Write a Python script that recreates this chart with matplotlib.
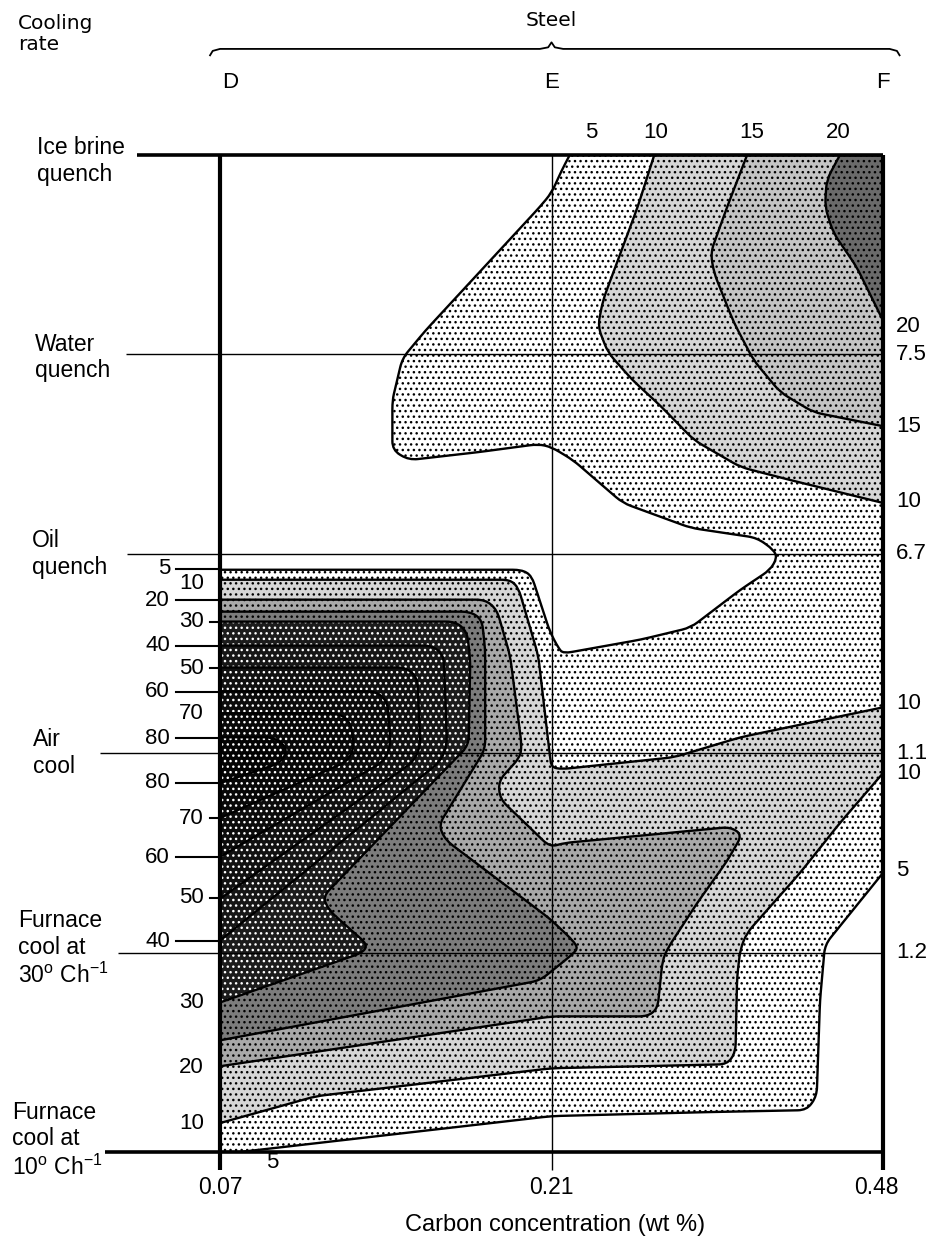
import numpy as np
import matplotlib
matplotlib.use('Agg')
import matplotlib.pyplot as plt
from matplotlib.path import Path
from matplotlib.patches import PathPatch

plt.rcParams['font.family'] = ['Liberation Sans', 'DejaVu Sans']
plt.rcParams['hatch.linewidth'] = 1.0

# axes: x = steel (D, E, F), y = cooling rate index (0 = furnace 10, 5 = ice brine)
steels = ['D', 'E', 'F']
carbon = ['0.07', '0.21', '0.48']
cooling = ['Furnace\ncool at\n10$^{\\mathregular{o}}$ Ch$^{\\mathregular{-1}}$',
           'Furnace\ncool at\n30$^{\\mathregular{o}}$ Ch$^{\\mathregular{-1}}$',
           'Air\ncool', 'Oil\nquench', 'Water\nquench', 'Ice brine\nquench']
row_values = ['', '1.2', '1.1', '6.7', '7.5', '']

# contour outlines (steel position, cooling-rate position)
c5_x = [1.055, 2.0, 2.0, 1.825, 1.81, 1.80, 1.77, 1.47, 1.0, 0.06, 0.0, 0.0, 0.91, 0.94,
        0.995, 1.02, 1.035, 1.27, 1.42, 1.57, 1.66, 1.68, 1.67, 1.62, 1.42, 1.215, 1.065,
        1.0, 0.96, 0.78, 0.57, 0.52, 0.52, 0.53, 0.55, 0.62, 0.965, 1.0, 1.03]
c5_y = [5.0, 5.0, 1.40, 1.04, 0.76, 0.28, 0.21, 0.20, 0.18, 0.0, 0.0, 2.92, 2.92, 2.89,
        2.61, 2.53, 2.50, 2.57, 2.63, 2.82, 2.92, 2.98, 3.02, 3.08, 3.13, 3.255, 3.47,
        3.535, 3.55, 3.51, 3.47, 3.52, 3.77, 3.84, 3.98, 4.12, 4.74, 4.81, 4.92]

c10_top_x = [1.31, 2.0, 2.0, 1.72, 1.57, 1.43, 1.33, 1.245, 1.17, 1.14, 1.155, 1.26]
c10_top_y = [5.0, 5.0, 3.255, 3.37, 3.435, 3.57, 3.74, 3.87, 4.01, 4.14, 4.27, 4.74]

c10_x = [0.0, 0.875, 0.90, 0.96, 0.995, 1.0, 1.03, 1.37, 1.57, 2.0, 2.0, 1.87, 1.75, 1.59,
         1.57, 1.56, 1.555, 1.53, 1.27, 1.0, 0.29, 0.0]
c10_y = [2.87, 2.87, 2.83, 2.49, 1.99, 1.93, 1.92, 1.98, 2.08, 2.23, 1.90, 1.65, 1.40, 1.10,
         1.02, 0.88, 0.50, 0.44, 0.43, 0.42, 0.28, 0.145]

c15_top_x = [1.59, 2.0, 2.0, 1.79, 1.69, 1.61, 1.55, 1.49, 1.48, 1.53]
c15_top_y = [5.0, 5.0, 3.64, 3.71, 3.81, 3.97, 4.16, 4.41, 4.51, 4.74]

c20_top_x = [1.87, 2.0, 2.0, 1.92, 1.85, 1.825, 1.83]
c20_top_y = [5.0, 5.0, 4.17, 4.44, 4.61, 4.74, 4.875]

c20_x = [0.0, 0.80, 0.835, 0.875, 0.91, 0.905, 0.84, 0.845, 0.995, 1.04, 1.54, 1.575, 1.53,
         1.44, 1.35, 1.335, 1.32, 1.29, 1.0, 0.0]
c20_y = [2.77, 2.77, 2.72, 2.49, 2.04, 1.98, 1.86, 1.77, 1.53, 1.55, 1.63, 1.59, 1.46,
         1.25, 1.02, 0.96, 0.72, 0.68, 0.68, 0.43]

c25_x = [0.0, 0.755, 0.79, 0.80, 0.80, 0.66, 0.68, 0.995, 1.065, 1.08, 1.055, 0.965, 0.0]
c25_y = [2.71, 2.71, 2.67, 2.52, 2.02, 1.64, 1.565, 1.17, 1.06, 1.02, 0.98, 0.86, 0.56]

c30_x = [0.0, 0.71, 0.745, 0.755, 0.75, 0.31, 0.33, 0.445, 0.43, 0.0]
c30_y = [2.66, 2.66, 2.61, 2.47, 2.04, 1.28, 1.21, 1.04, 1.00, 0.75]

c40_x = [0.0, 0.64, 0.675, 0.685, 0.665, 0.0]
c40_y = [2.54, 2.54, 2.49, 2.04, 1.96, 1.06]
c50_x = [0.0, 0.56, 0.595, 0.605, 0.585, 0.0]
c50_y = [2.43, 2.43, 2.38, 2.04, 1.96, 1.27]
c60_x = [0.0, 0.47, 0.505, 0.515, 0.495, 0.0]
c60_y = [2.31, 2.31, 2.26, 2.04, 1.96, 1.48]
c70_x = [0.0, 0.36, 0.395, 0.405, 0.385, 0.0]
c70_y = [2.20, 2.20, 2.15, 2.03, 1.96, 1.675]
c80_x = [0.0, 0.16, 0.195, 0.20, 0.18, 0.0]
c80_y = [2.08, 2.08, 2.04, 2.0, 1.95, 1.85]

# contour labels
top_labels = ['5', '10', '15', '20']
top_label_x = [1.12, 1.315, 1.605, 1.865]
edge_labels = ['20', '15', '10', '10', '10', '5']
edge_label_y = [4.14, 3.64, 3.26, 2.25, 1.90, 1.41]
left_labels = ['5', '10', '20', '30', '40', '50', '60', '70', '80',
               '80', '70', '60', '50', '40', '30', '20', '10']
left_label_y = [2.924, 2.849, 2.768, 2.658, 2.538, 2.427, 2.307, 2.197, 2.076,
                1.851, 1.675, 1.479, 1.274, 1.058, 0.752, 0.426, 0.145]
left_label_col = ['L', 'R', 'L', 'R', 'L', 'R', 'L', 'R', 'L',
                  'L', 'R', 'L', 'R', 'L', 'R', 'R', 'R']
left_label_tick = ['long', 'none', 'long', 'short', 'long', 'short', 'long', 'none', 'long',
                   'long', 'short', 'long', 'short', 'long', 'none', 'none', 'none']


def contour_path(xs, ys, r=0.045):
    pts = np.column_stack([xs, ys]).astype(float)
    n = len(pts)
    verts, codes = [], []
    for i in range(n):
        v = pts[i]
        if v[0] in (0.0, 2.0) or v[1] in (0.0, 5.0):
            verts.append(v)
            codes.append(Path.LINETO)
            continue
        p, q = pts[i - 1], pts[(i + 1) % n]
        d1, d2 = p - v, q - v
        l1 = np.hypot(d1[0] * 1.66, d1[1])
        l2 = np.hypot(d2[0] * 1.66, d2[1])
        a = v + d1 * min(r / l1, 0.45)
        b = v + d2 * min(r / l2, 0.45)
        verts += [a, v, b]
        codes += [Path.LINETO, Path.CURVE3, Path.CURVE3]
    codes[0] = Path.MOVETO
    verts.append(verts[0])
    codes.append(Path.CLOSEPOLY)
    return Path(verts, codes)


fig = plt.figure(figsize=(9.31, 12.42), dpi=100)
ax = fig.add_axes([220 / 931, 1 - 1152 / 1242, 663 / 931, 997 / 1242])
ax.set_xlim(0, 2)
ax.set_ylim(0, 5)
ax.axis('off')

layers = [
    (c5_x, c5_y, 'white', 'black'),
    (c10_top_x, c10_top_y, '#d6d6d6', 'black'),
    (c10_x, c10_y, '#d6d6d6', 'black'),
    (c15_top_x, c15_top_y, '#c4c4c4', 'black'),
    (c20_top_x, c20_top_y, '#6a6a6a', 'black'),
    (c20_x, c20_y, '#a8a8a8', 'black'),
    (c25_x, c25_y, '#7c7c7c', 'black'),
    (c30_x, c30_y, '#1c1c1c', 'white'),
    (c40_x, c40_y, '#161616', 'white'),
    (c50_x, c50_y, '#111111', 'white'),
    (c60_x, c60_y, '#0c0c0c', 'white'),
    (c70_x, c70_y, '#080808', 'white'),
    (c80_x, c80_y, '#040404', 'white'),
]
for xs, ys, fc, hc in layers:
    path = contour_path(xs, ys)
    ax.add_patch(PathPatch(path, facecolor=fc, edgecolor=hc, hatch='...', lw=0, zorder=1))
    ax.add_patch(PathPatch(path, fill=False, edgecolor='black', lw=1.7, zorder=2))

# grid lines for cooling rates and steels
row_line_start = [-0.347, -0.308, -0.362, -0.28, -0.284, -0.25]
for i, name in enumerate(cooling):
    heavy = i in (0, 5)
    ax.plot([row_line_start[i], 2], [i, i], color='black', lw=2.6 if heavy else 1.0,
            clip_on=False, zorder=3, solid_capstyle='butt')
row_label_dy = [0.06, 0.02, 0.0, 0.0, -0.015, -0.03]
row_label_x = [-0.627, -0.609, -0.564, -0.567, -0.558, -0.552]
for i, name in enumerate(cooling):
    ax.text(row_label_x[i], i + row_label_dy[i], name, ha='left', va='center', fontsize=16.5,
            linespacing=1.2, clip_on=False)
    if row_values[i]:
        ax.text(2.04, i, row_values[i], ha='left', va='center', fontsize=16)

for j, s in enumerate(steels):
    ax.plot([j, j], [-0.09, 5], color='black', lw=1.0 if j == 1 else 3.0, clip_on=False,
            zorder=3, solid_capstyle='butt')
    ax.text(j + (0.03 if j == 0 else 0), 5.366, s, ha='center', va='center', fontsize=16)
    ax.text(j - (0.02 if j == 2 else 0), -0.18, carbon[j], ha='center', va='center',
            fontsize=16.5)

ax.text(1.01, -0.366, 'Carbon concentration (wt %)', ha='center', va='center', fontsize=17)
ax.text(0.157, -0.055, '5', ha='center', va='center', fontsize=16)

# top header: "Cooling rate", "Steel" and brace
ax.text(-0.609, 5.607, 'Cooling\nrate', ha='left', va='center', fontsize=14.5, linespacing=1.15,
        family=['DejaVu Sans'])
ax.text(1.0, 5.677, 'Steel', ha='center', va='center', fontsize=14.5, family=['DejaVu Sans'])
brace_x = [-0.03, -0.022, 0.0, 0.965, 0.99, 1.0, 1.01, 1.035, 2.02, 2.042, 2.05]
brace_y = [5.50, 5.522, 5.532, 5.532, 5.54, 5.565, 5.54, 5.532, 5.532, 5.522, 5.50]
ax.plot(brace_x, brace_y, color='black', lw=1.3, clip_on=False)

for lab, x in zip(top_labels, top_label_x):
    ax.text(x, 5.115, lab, ha='center', va='center', fontsize=16)
for lab, y in zip(edge_labels, edge_label_y):
    ax.text(2.04, y, lab, ha='left', va='center', fontsize=16)

for lab, y, col, tick in zip(left_labels, left_label_y, left_label_col, left_label_tick):
    tx = -0.151 if col == 'L' else -0.048
    ax.text(tx, y, lab, ha='right', va='center', fontsize=16)
    if tick == 'long':
        ax.plot([-0.133, 0], [y, y], color='black', lw=1.5, clip_on=False, zorder=3)
    elif tick == 'short':
        ax.plot([-0.03, 0], [y, y], color='black', lw=1.5, clip_on=False, zorder=3)

fig.savefig('out.png', dpi=100)
